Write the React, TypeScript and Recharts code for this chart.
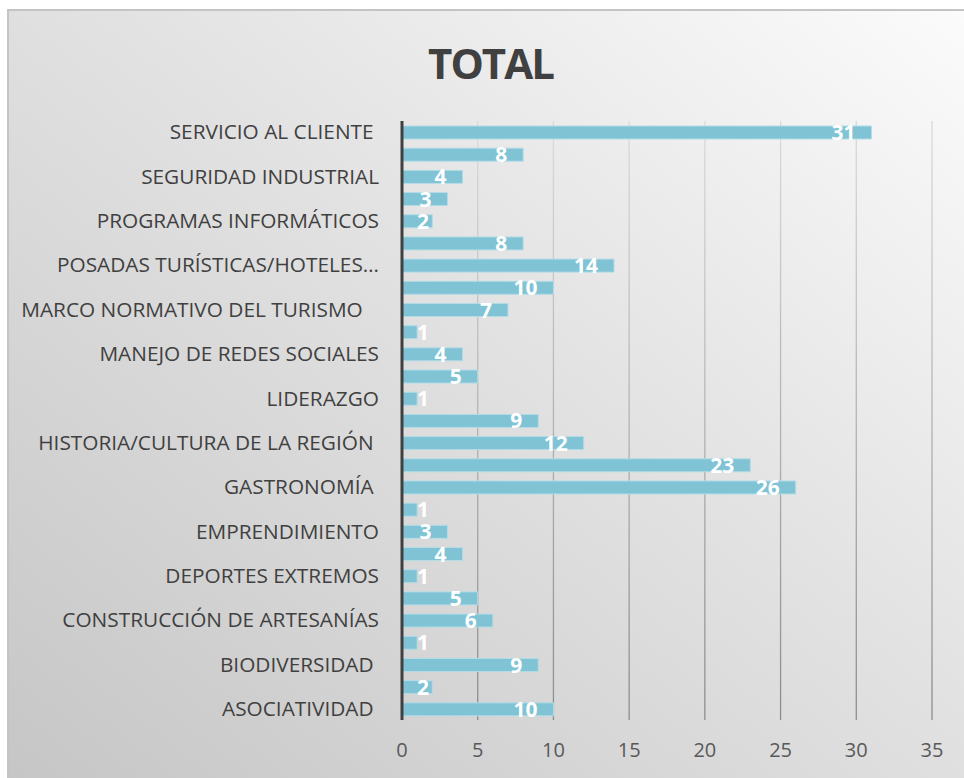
import { BarChart, Bar, XAxis, YAxis, CartesianGrid, LabelList } from 'recharts';

// top-to-bottom order, as in the picture (only every other name is shown)
const categories = [
  'SERVICIO AL CLIENTE ',
  'SENDERISMO',
  'SEGURIDAD INDUSTRIAL',
  'PROTOCOLO Y ETIQUETA',
  'PROGRAMAS INFORMÁTICOS',
  'PRIMEROS AUXILIOS',
  'POSADAS TURÍSTICAS/HOTELES…',
  'MERCADEO TURÍSTICO',
  'MARCO NORMATIVO DEL TURISMO   ',
  'MANIPULACIÓN DE ALIMENTOS',
  'MANEJO DE REDES SOCIALES',
  'MANEJO DE GRUPOS',
  'LIDERAZGO',
  'IDIOMAS',
  'HISTORIA/CULTURA DE LA REGIÓN ',
  'GUIANZA TURÍSTICA',
  'GASTRONOMÍA ',
  'FOTOGRAFÍA',
  'EMPRENDIMIENTO',
  'DISEÑO GRÁFICO',
  'DEPORTES EXTREMOS',
  'CONTABILIDAD BÁSICA',
  'CONSTRUCCIÓN DE ARTESANÍAS',
  'BIOSEGURIDAD',
  'BIODIVERSIDAD ',
  'ATENCIÓN AL TURISTA',
  'ASOCIATIVIDAD ',
];

const totals = [31, 8, 4, 3, 2, 8, 14, 10, 7, 1, 4, 5, 1, 9, 12, 23, 26, 1, 3, 4, 1, 5, 6, 1, 9, 2, 10];

const xTicks = [0, 5, 10, 15, 20, 25, 30, 35];

const data = categories.map((name, i) => ({ name, total: totals[i] }));

const FONT = '"Open Sans", sans-serif';

function CategoryTick(props: any) {
  const { x, y, payload } = props;
  return (
    <text
      x={x}
      y={y}
      dy="0.35em"
      textAnchor="end"
      fill="#404040"
      fontSize={20.8}
      fontFamily={FONT}
      xmlSpace="preserve"
      style={{ whiteSpace: 'pre' }}
    >
      {payload.value}
    </text>
  );
}

function BarValue(props: any) {
  const { x, y, width, height, value } = props;
  const w = String(value).length * 12;
  const right = Math.max(x + width - 16, x + 15 + w);
  return (
    <text
      x={right}
      y={y + height / 2}
      dy="0.36em"
      textAnchor="end"
      fill="#ffffff"
      fontSize={21}
      fontWeight="bold"
      fontFamily={FONT}
    >
      {value}
    </text>
  );
}

export default function App() {
  return (
    <>
      <style>{'body{margin:0;overflow:hidden}'}</style>
      <div
        style={{
          position: 'absolute',
          left: 7,
          top: 9,
          width: 957,
          height: 769,
          boxSizing: 'border-box',
          borderTop: '2px solid #c4c4c4',
          borderLeft: '2px solid #c4c4c4',
          background: 'linear-gradient(to bottom left, #fbfbfb 0%, #e2e2e2 45%, #c6c6c6 100%)',
        }}
      />
      <div
        style={{
          position: 'absolute',
          left: 0,
          top: 34,
          width: 981,
          textAlign: 'center',
          fontFamily: FONT,
          fontWeight: 'bold',
          fontSize: 42,
          color: '#404040',
          letterSpacing: -2,
        }}
      >
        TOTAL
      </div>
      <div style={{ position: 'absolute', left: 0, top: 0 }}>
        <BarChart
          width={964}
          height={778}
          data={data}
          layout="vertical"
          margin={{ top: 121, right: 32, bottom: 28, left: 0 }}
        >
          <defs>
            <linearGradient id="gridFade" gradientUnits="userSpaceOnUse" x1="0" y1="121" x2="0" y2="720">
              <stop offset="0%" stopColor="#dadada" />
              <stop offset="100%" stopColor="#8c8c8c" />
            </linearGradient>
          </defs>
          <CartesianGrid horizontal={false} stroke="url(#gridFade)" strokeWidth={1.3} />
          <XAxis
            type="number"
            domain={[0, 35]}
            ticks={xTicks}
            axisLine={false}
            tickLine={false}
            tickSize={0}
            tickMargin={23}
            height={30}
            tick={{ fill: '#595959', fontSize: 20, fontFamily: FONT }}
          />
          <YAxis
            type="category"
            dataKey="name"
            width={402}
            interval={1}
            tickLine={false}
            tickSize={0}
            tickMargin={23}
            axisLine={{ stroke: '#404040', strokeWidth: 3 }}
            tick={<CategoryTick />}
          />
          <Bar
            dataKey="total"
            fill="#7fc3d5"
            stroke="#b3dce7"
            strokeWidth={1}
            barSize={13}
            isAnimationActive={false}
          >
            <LabelList dataKey="total" content={<BarValue />} />
          </Bar>
        </BarChart>
      </div>
    </>
  );
}
